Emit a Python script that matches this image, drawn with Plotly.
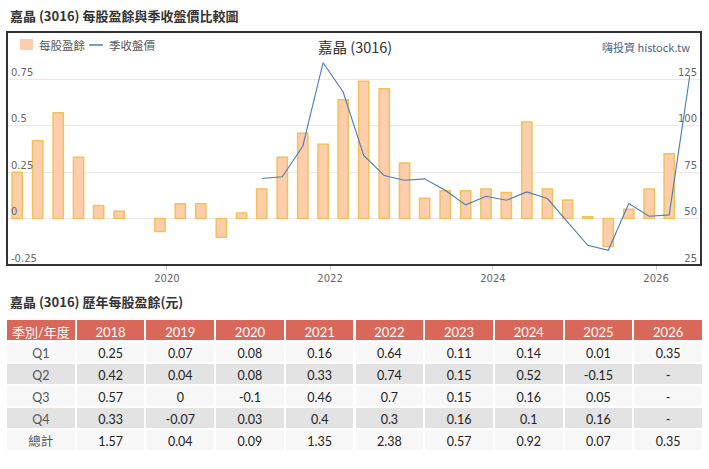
import plotly.graph_objects as go

# 每股盈餘 (元) by year and quarter, None = not yet reported
years = ['2018', '2019', '2020', '2021', '2022', '2023', '2024', '2025', '2026']
eps_q1 = [0.25, 0.07, 0.08, 0.16, 0.64, 0.11, 0.14, 0.01, 0.35]
eps_q2 = [0.42, 0.04, 0.08, 0.33, 0.74, 0.15, 0.52, -0.15, None]
eps_q3 = [0.57, 0, -0.1, 0.46, 0.7, 0.15, 0.16, 0.05, None]
eps_q4 = [0.33, -0.07, 0.03, 0.4, 0.3, 0.16, 0.1, 0.16, None]
eps_total = [1.57, 0.04, 0.09, 1.35, 2.38, 0.57, 0.92, 0.07, 0.35]

# 季收盤價, quarterly close from 2021 Q1 to 2026 Q2
price_start = (2021, 1)
price_close = [71.6, 72.5, 89.0, 134.0, 118.2, 84.0, 73.2, 70.7,
               71.4, 65.3, 57.4, 62.0, 59.9, 64.4, 60.8, 47.9,
               35.6, 32.9, 58.1, 51.3, 52.0, 126.8]

quarter_labels = ['Q1', 'Q2', 'Q3', 'Q4', '總計']

BAR_FILL = '#FDCDAC'
BAR_EDGE = '#F2C25A'
LINE_COL = '#4A7DBA'


def q_date(year, q):
    return f"{year}-{q * 3:02d}-01"


# flatten quarterly eps for the bars
bar_x, bar_y = [], []
for i, yr in enumerate(years):
    for q, col in enumerate([eps_q1, eps_q2, eps_q3, eps_q4], start=1):
        if col[i] is not None:
            bar_x.append(q_date(int(yr), q))
            bar_y.append(col[i])

line_x = []
y0, q0 = price_start
for k in range(len(price_close)):
    n = (q0 - 1) + k
    line_x.append(q_date(y0 + n // 4, n % 4 + 1))

W, H = 709, 469
CJK = "Noto Sans CJK TC"
AX = "DejaVu Sans"


def px_x(p):
    return p / W


def px_y(p):
    return 1 - p / H


fig = go.Figure()

fig.add_trace(go.Bar(
    x=bar_x, y=bar_y, name='每股盈餘',
    width=46 * 86400000,
    marker=dict(color=BAR_FILL,
                line=dict(color=BAR_EDGE, width=[0 if v == 0 else 1.5 for v in bar_y])),
    xaxis='x', yaxis='y',
))

fig.add_trace(go.Scatter(
    x=line_x, y=price_close, name='季收盤價', mode='lines',
    line=dict(color=LINE_COL, width=1.1),
    xaxis='x', yaxis='y2',
))


def fmt(v):
    return '-' if v is None else f"{v:g}"


cols = [[fmt(eps_q1[i]), fmt(eps_q2[i]), fmt(eps_q3[i]), fmt(eps_q4[i]), fmt(eps_total[i])]
        for i in range(len(years))]
row_fill = ['#F8F8F8', '#E3E3E3', '#F8F8F8', '#E3E3E3', '#F8F8F8']

fig.add_trace(go.Table(
    domain=dict(x=[px_x(6), px_x(703)], y=[px_y(456), px_y(319)]),
    header=dict(values=['季別/年度'] + years,
                fill_color='#D9685B', align='center', height=22,
                line=dict(color='white', width=2),
                font=dict(color='white', size=13, family="Lato, " + CJK)),
    cells=dict(values=[quarter_labels] + cols,
               fill_color=[row_fill] * (len(years) + 1),
               align='center', height=22,
               line=dict(color='white', width=2),
               font=dict(color=[['#555555'] * 5] + [['#222222'] * 5] * len(years),
                         size=12.5, family="Lato, " + CJK)),
))

# small legend drawn by hand, highcharts style
legend_shapes = [
    dict(type='rect', xref='paper', yref='paper',
         x0=px_x(20), x1=px_x(33), y0=px_y(50), y1=px_y(39),
         fillcolor=BAR_FILL, line=dict(width=0)),
    dict(type='line', xref='paper', yref='paper',
         x0=px_x(89), x1=px_x(103), y0=px_y(45), y1=px_y(45),
         line=dict(color=LINE_COL, width=1.5)),
]

fig.update_layout(
    width=W, height=H,
    margin=dict(l=0, r=0, t=0, b=0),
    paper_bgcolor='white', plot_bgcolor='white',
    showlegend=False,
    xaxis=dict(domain=[px_x(8), px_x(700)], type='date',
               range=['2018-01-19', '2026-07-17'],
               tick0='2020-01-01', dtick='M24', tickformat='%Y',
               ticks='outside', ticklen=4, tickcolor='#CCCCCC',
               showgrid=False, zeroline=False, showline=False,
               tickfont=dict(size=10, color='#666666', family=AX)),
    yaxis=dict(domain=[px_y(265), px_y(33)], range=[-0.25, 1.0],
               tickvals=[-0.25, 0, 0.25, 0.5, 0.75], ticktext=['-0.25', '0', '0.25', '0.5', '0.75'],
               ticklabelposition='inside top', showgrid=True, gridcolor='#E9E9E9', gridwidth=1,
               zeroline=False, showline=False,
               tickfont=dict(size=10, color='#666666', family=AX)),
    yaxis2=dict(overlaying='y', side='right', range=[25, 150],
                tickvals=[25, 50, 75, 100, 125],
                ticklabelposition='inside top', showgrid=False, zeroline=False, showline=False,
                tickfont=dict(size=10, color='#666666', family=AX)),
    shapes=[dict(type='rect', xref='paper', yref='paper',
                 x0=px_x(7), x1=px_x(701), y0=px_y(265), y1=px_y(32),
                 line=dict(color='#333333', width=2))] + legend_shapes,
    annotations=[
        dict(text='<b>嘉晶 (3016) 每股盈餘與季收盤價比較圖</b>', xref='paper', yref='paper',
             x=px_x(8), y=px_y(16), xanchor='left', yanchor='middle', showarrow=False,
             font=dict(size=13, color='#333333', family=CJK)),
        dict(text='每股盈餘', xref='paper', yref='paper',
             x=px_x(37), y=px_y(45), xanchor='left', yanchor='middle', showarrow=False,
             font=dict(size=11.5, color='#555555', family=CJK)),
        dict(text='季收盤價', xref='paper', yref='paper',
             x=px_x(107), y=px_y(45), xanchor='left', yanchor='middle', showarrow=False,
             font=dict(size=11.5, color='#555555', family=CJK)),
        dict(text='嘉晶 (3016)', xref='paper', yref='paper',
             x=px_x(355), y=px_y(47), xanchor='center', yanchor='middle', showarrow=False,
             font=dict(size=14.5, color='#333333', family=CJK)),
        dict(text='嗨投資 histock.tw', xref='paper', yref='paper',
             x=px_x(692), y=px_y(47), xanchor='right', yanchor='middle', showarrow=False,
             font=dict(size=11, color='#4D6582', family=CJK)),
        dict(text='<b>嘉晶 (3016) 歷年每股盈餘(元)</b>', xref='paper', yref='paper',
             x=px_x(8), y=px_y(301), xanchor='left', yanchor='middle', showarrow=False,
             font=dict(size=13, color='#333333', family=CJK)),
    ],
)

# drop the default 8px page margin so the figure sits at the window origin
fig.write_html("out.html", config={'displayModeBar': False},
               post_script="document.body.style.margin='0';")
